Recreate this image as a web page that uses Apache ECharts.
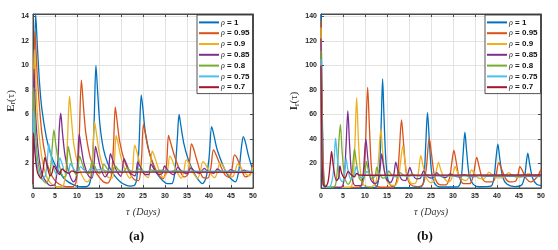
<!DOCTYPE html>
<html>
<head>
<meta charset="utf-8">
<script src="https://cdn.jsdelivr.net/npm/echarts@6/dist/echarts.min.js"></script>
<style>html,body{margin:0;padding:0;background:#fff}#c{width:558px;height:250px}</style>
</head>
<body>
<div id="c"></div>
<script>
// ---------- data ----------
const seriesNames = ['ρ = 1','ρ = 0.95','ρ = 0.9','ρ = 0.85','ρ = 0.8','ρ = 0.75','ρ = 0.7'];
const xTicks = [0,5,10,15,20,25,30,35,40,45,50];
const yTicksE = [2,4,6,8,10,12,14];
const yTicksI = [20,40,60,80,100,120,140];

// E_r(tau)  [tau, value]
const E_rho100 = [[0,0.3],[0.3,9],[0.6,14.2],[1,11.5],[1.5,8.5],[2,6.5],[3,4.2],[4,2.8],[5,1.9],[6,1.3],[7,0.8],[8,0.5],[9,0.3],[10,0.15],[11,0.1],[12,0.1],[12.8,0.3],[13.4,1.5],[13.9,5.5],[14.3,10],[14.7,7.8],[15.2,5.2],[16,3.2],[17,2],[18,1.3],[19,0.8],[20,0.45],[21,0.25],[22,0.15],[23,0.2],[23.6,0.8],[24.1,3.5],[24.6,7.6],[25,6.4],[25.5,4.6],[26.5,2.8],[27.5,1.7],[28.5,1],[29.5,0.6],[30.5,0.35],[31.5,0.35],[32.2,1.2],[32.8,4],[33.2,6.0],[33.6,5.1],[34.3,3.6],[35.3,2.3],[36.5,1.3],[37.5,0.7],[38.5,0.35],[39.3,0.8],[40,2.4],[40.6,5.0],[41,4.5],[41.8,3.2],[43,2],[44,1.2],[45,0.75],[46,0.5],[46.8,1.5],[47.4,3.4],[47.8,4.2],[48.3,3.7],[49,2.6],[50,1.4]];
const E_rho095 = [[0,0.3],[0.2,8],[0.45,12.8],[1,9],[2,4.5],[3,2.3],[4,1.2],[5,0.6],[6,0.3],[7,0.15],[8,0.1],[9,0.1],[9.8,0.5],[10.4,3],[11,8.8],[11.5,6.5],[12,4.5],[13,2.5],[14,1.5],[15,0.9],[16,0.5],[17,0.4],[17.8,1],[18.3,3.5],[18.7,6.6],[19.1,5.5],[19.7,3.8],[20.7,2.3],[22,1.2],[23,0.7],[24,0.6],[24.6,2],[25.1,5.2],[25.5,4.5],[26.2,3.2],[27.3,2],[28.5,1.1],[29.5,0.75],[30.3,1.7],[30.8,4.3],[31.2,3.8],[32,2.8],[33.2,1.6],[34.3,0.9],[35.2,1.1],[35.6,2.2],[36,3.6],[36.5,3.2],[37.3,2.2],[38.5,0.9],[39.7,0.8],[40.4,1.6],[41,3.1],[41.5,2.8],[42.4,2.0],[43.6,1.1],[44.6,0.85],[45.2,1.5],[45.8,2.7],[46.3,2.5],[47.2,1.7],[48.3,0.9],[49.3,1.1],[50,1.9]];
const E_rho090 = [[0,0.3],[0.15,7],[0.3,11.3],[1,6],[2,2.5],[3,1.0],[4,0.4],[5,0.15],[6,0.1],[7,0.3],[7.6,2],[8.0,5.5],[8.3,7.5],[8.7,5.8],[9.3,3.5],[10.3,1.8],[11.3,0.9],[12.3,0.5],[13,0.8],[13.6,3],[14.0,5.4],[14.4,4.5],[15,3],[16,1.6],[17,0.9],[18,0.8],[18.5,2.2],[18.9,4.3],[19.3,3.7],[20,2.5],[21,1.4],[22,0.8],[22.6,1.4],[23.1,3.5],[23.5,3.1],[24.3,2],[25.3,1.1],[26.2,0.85],[26.7,2],[27.1,3.0],[27.6,2.6],[28.5,1.6],[29.6,0.85],[30.5,1.3],[31.1,2.6],[31.6,2.3],[32.6,1.4],[33.7,0.8],[34.3,1.4],[34.8,2.3],[35.3,2.1],[36.3,1.3],[37.4,0.8],[38,1.3],[38.6,2.15],[39.1,2.0],[40.1,1.3],[41.3,0.85],[41.9,1.3],[42.5,2.05],[43,1.9],[44.1,1.25],[45.3,0.9],[45.9,1.3],[46.5,1.95],[47,1.8],[48.1,1.2],[49.2,1.0],[50,1.7]];
const E_rho085 = [[0,0.3],[0.1,6],[0.22,9.7],[0.6,6],[1.2,3],[2,1.2],[3,0.5],[4,0.2],[5,0.3],[5.6,2],[6.0,5],[6.3,6.1],[6.7,4.5],[7.3,2.6],[8.2,1.2],[9.2,0.5],[9.8,0.8],[10.2,2.5],[10.5,4.4],[10.9,3.5],[11.6,2],[12.6,1.0],[13.4,0.8],[13.9,2],[14.2,3.4],[14.6,2.8],[15.4,1.6],[16.4,0.9],[17.1,1.3],[17.6,2.8],[18.1,2.3],[19,1.4],[20,0.95],[20.7,2.4],[21.2,2.0],[22.2,1.2],[23.2,1.0],[23.8,2.1],[24.3,1.8],[25.5,1.1],[26.3,1.1],[26.8,1.95],[27.4,1.6],[28.5,1.1],[29.3,1.15],[29.9,1.8],[30.5,1.5],[31.8,1.1],[32.3,1.2],[32.9,1.7],[33.6,1.45],[34.9,1.15],[35.9,1.65],[36.6,1.4],[37.9,1.2],[38.9,1.6],[39.6,1.4],[41,1.2],[41.9,1.55],[42.6,1.4],[44,1.25],[44.9,1.5],[45.6,1.4],[47,1.25],[48,1.45],[48.8,1.35],[50,1.3]];
const E_rho080 = [[0,0.3],[0.08,5],[0.18,8.2],[0.5,5],[1,2.5],[2,0.8],[3,0.4],[3.8,1],[4.4,3.5],[4.75,4.75],[5.2,3.5],[6,1.8],[7,0.9],[7.5,1.0],[7.8,2.5],[8.0,3.4],[8.5,2.5],[9.3,1.4],[10,1.0],[10.6,2.6],[11.2,2.0],[12.2,1.2],[12.8,1.2],[13.4,2.2],[14,1.8],[15,1.2],[15.5,1.3],[16.1,1.95],[16.8,1.6],[17.8,1.2],[18.7,1.8],[19.4,1.5],[20.4,1.25],[21.3,1.65],[22,1.45],[23.2,1.3],[24,1.55],[24.8,1.4],[26,1.3],[26.7,1.5],[27.5,1.4],[29.3,1.45],[31,1.35],[32,1.42],[34,1.36],[50,1.36]];
const E_rho075 = [[0,0.3],[0.07,4],[0.15,6.3],[0.4,4],[1,1.8],[2,0.7],[2.8,1.0],[3.3,2.5],[3.6,3.6],[4,2.8],[4.8,1.5],[5.4,1.1],[6.1,2.45],[6.6,2.0],[7.4,1.2],[8,1.2],[8.5,2.0],[9,1.7],[10,1.25],[10.8,1.75],[11.5,1.5],[12.4,1.3],[13.1,1.6],[13.8,1.45],[15.4,1.5],[17,1.38],[50,1.35]];
const E_rho070 = [[0,0.3],[0.05,3],[0.12,4.5],[0.4,3],[1,1.3],[1.8,0.8],[2.3,1.5],[2.7,2.5],[3.1,2.0],[3.9,1.0],[4.3,1.2],[4.75,1.8],[5.3,1.5],[6,1.1],[6.6,1.55],[7.3,1.35],[8.2,1.2],[8.8,1.4],[10,1.26],[11,1.3],[50,1.28]];

// I_r(tau)  [tau, value]
const I_rho100 = [[0,142],[0.3,60],[0.6,10],[1,1],[2,0.2],[12,0.2],[12.8,2],[13.3,15],[13.7,55],[14.0,89],[14.3,60],[14.7,25],[15.2,7],[16,1.5],[17,0.3],[22.5,0.5],[23.3,5],[23.8,35],[24.2,61.5],[24.6,40],[25.1,14],[25.8,4],[27,0.8],[31,1],[31.8,6],[32.3,28],[32.7,45.5],[33.1,30],[33.7,10],[34.6,3],[36,1],[38.6,1.5],[39.3,8],[39.8,25],[40.2,35.8],[40.6,25],[41.3,9],[42.3,3],[44,1.2],[45.6,2.5],[46.3,10],[46.7,22],[47.0,28.4],[47.4,20],[48.1,8],[49,3],[50,2]];
const I_rho095 = [[0,137],[0.3,50],[0.7,5],[1.2,0.5],[8.5,0.5],[9.4,3],[10,25],[10.6,82],[11.0,50],[11.5,15],[12.2,3],[13.5,0.6],[16.5,1],[17.3,8],[17.8,30],[18.3,55.5],[18.8,35],[19.4,12],[20.3,3],[22,1.2],[23.2,3],[23.9,15],[24.6,40.6],[25.1,28],[25.8,10],[26.8,3],[28.3,2.5],[29.2,8],[29.7,20],[30.2,30.6],[30.7,22],[31.4,9],[32.5,3.5],[33.8,3.5],[34.6,10],[35.4,25],[35.9,18],[36.7,7.5],[37.6,5],[39,5],[39.8,11],[40.4,20.7],[41,16],[41.9,8],[42.8,5],[44.2,5.5],[44.8,11],[45.2,17.5],[45.8,14],[46.7,7.5],[47.7,5],[49.1,9],[50,15]];
const I_rho090 = [[0,131],[0.25,50],[0.6,5],[1,0.5],[6.5,0.5],[7.2,5],[7.7,35],[8.1,73.7],[8.5,40],[9,12],[9.8,2],[11.5,1],[12.5,5],[13.1,25],[13.6,48],[14.0,30],[14.6,10],[15.5,3],[16.8,2],[17.6,8],[18.1,22],[18.6,34.4],[19.0,24],[19.7,9],[20.7,3.5],[21.5,4],[22.1,12],[22.7,26.3],[23.2,18],[24,8],[25,4.5],[25.7,6],[26.2,14],[26.7,20.9],[27.2,15],[28,8],[29,5],[29.6,7],[30.1,13],[30.5,17.6],[31,13],[32,7.5],[33,6],[33.6,9],[34.2,14.8],[34.8,12],[35.8,8],[37,7.5],[37.6,10],[38.2,13],[38.8,11],[40,8.2],[41.2,8.2],[42,10.5],[42.6,12.5],[43.3,10.8],[44.6,8.6],[45.8,9],[46.6,11],[47.2,11.8],[47.9,10.6],[49.2,9],[50,9.6]];
const I_rho085 = [[0,122],[0.25,40],[0.6,3],[1,0.5],[4.5,0.5],[5.2,6],[5.7,35],[6.1,63],[6.5,35],[7,10],[7.8,2],[9,2],[9.6,12],[10.2,39.8],[10.7,22],[11.3,7],[12.3,3.5],[13,6],[13.4,15],[13.8,27.9],[14.2,18],[14.9,7],[15.8,4.5],[16.5,10],[17.0,21],[17.5,14],[18.3,7],[19.2,6],[19.7,11],[20.2,16.8],[20.7,12],[21.7,7.5],[22.6,8],[23.3,14],[23.9,10.5],[25,8],[25.8,9.5],[26.3,12.5],[27,10],[28.3,8.5],[29.4,11.5],[30.2,9.8],[31.5,9],[32.5,10.8],[33.4,9.8],[35,9.3],[36,10.3],[37,9.6],[50,9.6]];
const I_rho080 = [[0,112],[0.2,40],[0.5,3],[1,0.6],[3,1],[3.6,10],[4.1,40],[4.4,52],[4.8,30],[5.4,8],[6.2,3],[6.9,8],[7.3,22],[7.6,31.7],[8,22],[8.7,8],[9.5,5],[10,12],[10.3,21.7],[10.8,14],[11.6,7.5],[12.3,10],[12.7,17],[13.2,12],[14.2,8],[15,10],[15.4,14],[16,11],[17.2,9],[18,12.5],[18.7,10.5],[20,9.5],[20.6,11.5],[21.4,10.3],[23,10],[24,10.8],[25,10.2],[50,10.2]];
const I_rho075 = [[0,105],[0.2,35],[0.5,2],[1,0.5],[2,1],[2.7,10],[3.1,30],[3.3,40.6],[3.7,25],[4.3,8],[4.9,5],[5.4,15],[5.7,24],[6.1,15],[6.8,7],[7.5,10],[8.0,17.6],[8.4,13],[9.2,8],[10,11],[10.4,13.5],[11,11],[12.2,9.5],[12.8,11.5],[13.5,10.5],[15,10],[50,10]];
const I_rho070 = [[0,100],[0.2,30],[0.5,3],[1,1],[1.6,5],[2.1,20],[2.4,29.8],[2.8,18],[3.5,6],[4,8],[4.3,18],[4.7,12],[5.4,8],[6.2,13.5],[6.8,11],[7.6,9],[8.1,12],[8.7,10.5],[10,10.4],[50,10.6]];

const E_all = [E_rho100,E_rho095,E_rho090,E_rho085,E_rho080,E_rho075,E_rho070];
const I_all = [I_rho100,I_rho095,I_rho090,I_rho085,I_rho080,I_rho075,I_rho070];
const colors = ['#0072BD','#D95319','#EDB120','#7E2F8E','#77AC30','#4DBEEE','#A2142F'];

// ---------- chart ----------
const chart = echarts.init(document.getElementById('c'), null, {renderer:'canvas'});
const axisCol = '#4a4a4a';
const tickFont = {fontSize:7, fontWeight:'bold', color:'#262626', fontFamily:'Liberation Sans'};

function xAx(gi, top){
  return {
    type:'value', gridIndex:gi, min:0, max:50, interval:5, position: top?'top':'bottom',
    axisLine:{show:true, onZero:false, lineStyle:{color:axisCol, width:1}},
    axisTick:{show:true, inside:true, length:3, lineStyle:{color:axisCol}},
    axisLabel: top ? {show:false} : Object.assign({show:true, margin:5, formatter:v=>xTicks.includes(v)?String(v):''}, tickFont),
    splitLine:{show:!top, lineStyle:{color:'#e3e3e3', width:1}},
    name: top ? '' : '{t|τ} {d|(Days)}', nameLocation:'middle', nameGap:18,
    nameTextStyle:{rich:{t:{fontFamily:'Liberation Serif', fontStyle:'italic', fontSize:10, color:'#333'}, d:{fontFamily:'Liberation Serif', fontStyle:'italic', fontSize:10, color:'#333'}}}
  };
}
function yAx(gi, right, max, interval, ticks, letter){
  return {
    type:'value', gridIndex:gi, min:0, max:max, interval:interval, position: right?'right':'left',
    axisLine:{show:true, onZero:false, lineStyle:{color:axisCol, width:1}},
    axisTick:{show:true, inside:true, length:3, lineStyle:{color:axisCol}},
    axisLabel: right ? {show:false} : Object.assign({show:true, margin:4, formatter:v=>ticks.includes(v)?String(v):''}, tickFont),
    splitLine:{show:!right, lineStyle:{color:'#e3e3e3', width:1}},
    name: right ? '' : '{e|'+letter+'}{s|r}{p|(τ)}', nameLocation:'middle', nameRotate:90, nameGap: (max>100?20:13),
    nameTextStyle:{rich:{
      e:{fontFamily:'Liberation Serif', fontWeight:'bold', fontSize:11, color:'#333', lineHeight:13, verticalAlign:'middle'},
      s:{fontFamily:'Liberation Serif', fontSize:7.5, color:'#333', lineHeight:13, verticalAlign:'bottom'},
      p:{fontFamily:'Liberation Serif', fontSize:11, color:'#333', lineHeight:13, verticalAlign:'middle'}
    }}
  };
}

const series = [];
E_all.forEach((d,i)=>series.push({name:seriesNames[i], type:'line', xAxisIndex:0, yAxisIndex:0, data:d, showSymbol:false, smooth:0.3, lineStyle:{width:1.3, color:colors[i]}, itemStyle:{color:colors[i]}, z:2+i, animation:false}));
I_all.forEach((d,i)=>series.push({name:seriesNames[i], type:'line', xAxisIndex:2, yAxisIndex:2, data:d, showSymbol:false, smooth:0.3, lineStyle:{width:1.3, color:colors[i]}, itemStyle:{color:colors[i]}, z:2+i, animation:false}));

function legend(left){
  return {
    show:true, orient:'vertical', left:left, top:15, data:seriesNames,
    icon:'rect', itemWidth:20, itemHeight:2, itemGap:2, padding:[3,3,2,2],
    backgroundColor:'#fff', borderColor:'#262626', borderWidth:0.8, z:20,
    selectedMode:false,
    formatter: n => '{g|ρ}{t| = ' + n.split('= ')[1] + '}',
    textStyle:{fontSize:8, lineHeight:8.8, padding:[0,0,0,-3], rich:{
      g:{fontFamily:'Liberation Serif', fontStyle:'italic', fontSize:8, color:'#222'},
      t:{fontFamily:'Liberation Sans', fontWeight:'bold', fontSize:8, color:'#111'}
    }}
  };
}

chart.setOption({
  animation:false,
  backgroundColor:'#fff',
  grid:[
    {left:33, top:14, width:220, height:174, show:true, borderColor:axisCol, borderWidth:1, backgroundColor:'transparent'},
    {left:321, top:14, width:220, height:174, show:true, borderColor:axisCol, borderWidth:1, backgroundColor:'transparent'}
  ],
  xAxis:[xAx(0,false), xAx(0,true), xAx(1,false), xAx(1,true)],
  yAxis:[yAx(0,false,14.2,2,yTicksE,'E'), yAx(0,true,14.2,2,yTicksE,'E'), yAx(1,false,142,20,yTicksI,'I'), yAx(1,true,142,20,yTicksI,'I')],
  legend:[legend(197), legend(485)],
  series: series,
  graphic:[
    {type:'text', left:129, top:230, style:{text:'(a)', font:'bold 13px "Liberation Serif"', fill:'#111'}},
    {type:'text', left:417, top:230, style:{text:'(b)', font:'bold 13px "Liberation Serif"', fill:'#111'}}
  ]
});
</script>
</body>
</html>
